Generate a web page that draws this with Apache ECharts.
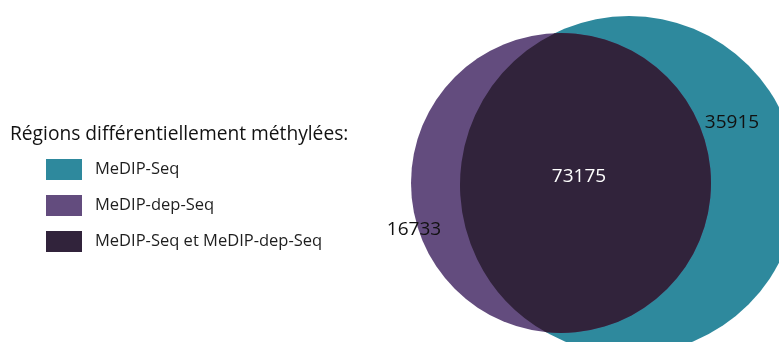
<!DOCTYPE html>
<html><head><meta charset="utf-8">
<script src="https://cdn.jsdelivr.net/npm/echarts@6/dist/echarts.min.js"></script>
<style>html,body{margin:0;padding:0;background:#fff}#c{width:779px;height:342px}</style>
</head><body><div id="c"></div>
<script>
// ---- data ----
const legendTitle = 'Régions différentiellement méthylées:';
const regionNames = ['MeDIP-Seq', 'MeDIP-dep-Seq', 'MeDIP-Seq et MeDIP-dep-Seq'];
const regionCounts = [35915, 16733, 73175];

// ---- styles & layout ----
const regionColors = ['#2E899D', '#634C7E', '#31233B'];
const labelColors = ['#111111', '#111111', '#ffffff'];
const FONT = 'Open Sans';
const circleSeq = { cx: 629, cy: 185, r: 169 };   // MeDIP-Seq set
const circleDep = { cx: 561, cy: 183, r: 150 };   // MeDIP-dep-Seq set
const labelPos = [[732, 123], [414, 230], [579, 177]];

function lensPath(a, b) {
  // intersection of circle a (left, smaller) and circle b (right, larger)
  const dx = b.cx - a.cx, dy = b.cy - a.cy;
  const d = Math.sqrt(dx * dx + dy * dy);
  const ux = dx / d, uy = dy / d;
  const t = (a.r * a.r - b.r * b.r + d * d) / (2 * d);
  const h = Math.sqrt(a.r * a.r - t * t);
  const px = a.cx + t * ux, py = a.cy + t * uy;
  const top = [px + h * uy, py - h * ux];
  const bot = [px - h * uy, py + h * ux];
  const largeB = (d - t) < 0 ? 1 : 0;
  const largeA = t < 0 ? 1 : 0;
  return 'M' + top[0] + ' ' + top[1] +
    ' A' + b.r + ' ' + b.r + ' 0 ' + largeB + ' 0 ' + bot[0] + ' ' + bot[1] +
    ' A' + a.r + ' ' + a.r + ' 0 ' + largeA + ' 0 ' + top[0] + ' ' + top[1] + ' Z';
}

function renderRegion(params, api) {
  const i = params.seriesIndex;
  const value = api.value(0);
  let shape;
  if (i === 0) {
    shape = { type: 'circle', shape: { cx: circleSeq.cx, cy: circleSeq.cy, r: circleSeq.r }, style: { fill: regionColors[0] } };
  } else if (i === 1) {
    shape = { type: 'circle', shape: { cx: circleDep.cx, cy: circleDep.cy, r: circleDep.r }, style: { fill: regionColors[1] } };
  } else {
    shape = { type: 'path', shape: { pathData: lensPath(circleDep, circleSeq) }, style: { fill: regionColors[2] } };
  }
  return {
    type: 'group',
    children: [
      shape,
      {
        type: 'text', x: labelPos[i][0], y: labelPos[i][1], z2: 100,
        style: { text: String(value), fill: labelColors[i], fontSize: 19, fontFamily: FONT, align: 'center', verticalAlign: 'middle' }
      }
    ]
  };
}

const chart = echarts.init(document.getElementById('c'), null, { renderer: 'canvas' });
chart.setOption({
  animation: false,
  title: {
    text: legendTitle, left: 10, top: 125, padding: 0,
    textStyle: { fontFamily: FONT, fontSize: 19.2, fontWeight: 'normal', color: '#111111' }
  },
  legend: {
    orient: 'vertical', left: 46, top: 159, padding: 0,
    itemWidth: 36, itemHeight: 21, itemGap: 15, icon: 'rect',
    selectedMode: false,
    data: regionNames,
    textStyle: { fontFamily: FONT, fontSize: 16.5, color: '#1e1e1e', padding: [0, 0, 0, 8] }
  },
  series: regionNames.map((name, i) => ({
    type: 'custom', name: name, coordinateSystem: 'none', silent: true,
    itemStyle: { color: regionColors[i] },
    data: [[regionCounts[i]]],
    renderItem: renderRegion
  }))
});
</script></body></html>
